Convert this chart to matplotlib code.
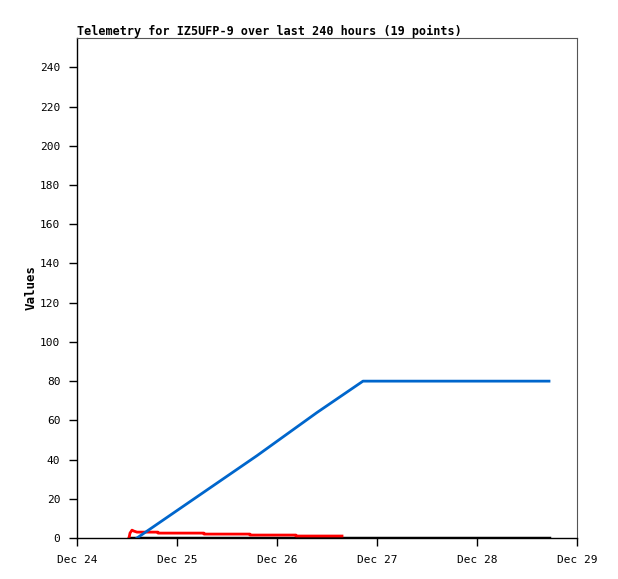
import matplotlib
matplotlib.use("Agg")
import matplotlib.pyplot as plt

# days since Dec 24 00:00
blue_t = [0.60, 1.20, 1.80, 2.40, 2.86, 3.50, 4.10, 4.72]
blue_v = [0, 21, 42, 64, 80, 80, 80, 80]

red_t = [0.52, 0.53, 0.55, 0.57, 0.60, 0.81, 0.81, 1.27, 1.27, 1.73, 1.73, 2.19, 2.19, 2.65]
red_v = [0, 2.5, 4, 3.5, 3, 3, 2.5, 2.5, 2, 2, 1.5, 1.5, 1, 1]

black_t = [0.52, 4.72]
black_v = [0, 0]

xtick_pos = [0, 1, 2, 3, 4, 5]
xtick_labels = ["Dec 24", "Dec 25", "Dec 26", "Dec 27", "Dec 28", "Dec 29"]
ytick_pos = list(range(0, 241, 20))

plt.rcParams['font.family'] = ['DejaVu Sans Mono']
plt.rcParams['font.size'] = 8

fig = plt.figure(figsize=(6.18, 5.79), dpi=100)
ax = fig.add_axes([77/618, 41/579, 500/618, 500/579])

ax.plot(black_t, black_v, color="black", lw=2.5)
ax.plot(red_t, red_v, color="#ff0000", lw=2)
ax.plot(blue_t, blue_v, color="#0066cc", lw=2)

ax.set_xlim(0, 5)
ax.set_ylim(0, 255)
ax.set_xticks(xtick_pos)
ax.set_xticklabels(xtick_labels)
ax.set_yticks(ytick_pos)
ax.tick_params(direction="out", length=6, width=1, colors="black", pad=6)

for s in ["top", "right"]:
    ax.spines[s].set_color("#555555")
    ax.spines[s].set_linewidth(0.8)
for s in ["left", "bottom"]:
    ax.spines[s].set_color("black")
    ax.spines[s].set_linewidth(1)

ax.set_ylabel("Values", fontweight="bold", fontsize=9, labelpad=2)
ax.set_title("Telemetry for IZ5UFP-9 over last 240 hours (19 points)",
             loc="left", fontweight="bold", fontsize=8.5, pad=2)

fig.savefig("out.png", dpi=100)
